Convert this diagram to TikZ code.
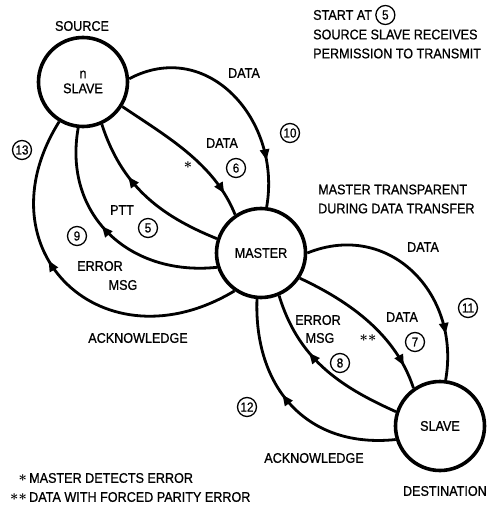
\documentclass[tikz,border=0pt]{standalone}
\usepackage{amsmath}
\usepackage{fontspec}
\setmainfont{Liberation Sans}[FakeStretch=0.9,FakeBold=0.8]
\usetikzlibrary{arrows.meta,decorations.markings,positioning}

\begin{document}
\begin{tikzpicture}[x=1pt,y=-1pt]
  \tikzset{station/.style = {circle,draw,line width=3.6pt,minimum size=89pt,inner sep=0pt,align=center,font=\fontsize{14}{15}\selectfont}}
  \tikzset{lbl/.style = {inner sep=0pt,align=center,font=\fontsize{14}{19}\selectfont}}
  \tikzset{num/.style = {circle,draw,line width=1.3pt,minimum size=19pt,inner sep=1pt,font=\fontsize{13}{13}\selectfont}}
  \tikzset{flow/.style = {line width=2.8pt}}
  \tikzset{tipat/.style = {postaction={decorate},decoration={markings,mark=at position #1 with {\arrow{Triangle[length=11pt,width=9pt]}}}}}

\useasboundingbox (0,0) rectangle (488,508);

\node[station] (src)  at (83,82)   {n\\SLAVE};
\node[station] (mst)  at (261,253) {MASTER};
\node[station] (dst)  at (440,426) {SLAVE};

\node[lbl] (srcname) at (82,26) {SOURCE};
\node[lbl,anchor=east] (dstname) at (487,491) {DESTINATION};

% notes
\node[lbl,anchor=west] (start) at (313,15) {START AT};
\node[num,right=3pt of start] (startnum) {5};
\node[lbl,anchor=west,align=left] (permit) at (313,44) {SOURCE SLAVE RECEIVES\\PERMISSION TO TRANSMIT};
\node[lbl,anchor=west,align=left] (transp) at (318,199) {MASTER TRANSPARENT\\DURING DATA TRANSFER};
\node[lbl,anchor=west] (fnone) at (29,478) {MASTER DETECTS ERROR};
\node[lbl,left=2pt of fnone] (fnonemark) {$\boldsymbol{\ast}$};
\node[lbl,anchor=west] (fntwo) at (29,497) {DATA WITH FORCED PARITY ERROR};
\node[lbl,left=2pt of fntwo] (fntwomark) {$\boldsymbol{\ast\ast}$};

% source <-> master
  \path (src.4) edge[flow, tipat=0.8, out=28, in=80, looseness=1.2] (mst.83);
  \path (src.-32) edge[flow, tipat=0.85, out=-34, in=112, looseness=0.9] (mst.124);
  \path (mst.162) edge[flow, tipat=0.65, out=158, in=-72] (src.-66);
  \path (mst.198) edge[flow, tipat=0.55, out=186, in=-100, looseness=1.15] (src.264);
  \path (mst.235) edge[flow, tipat=0.59, out=211, in=238, looseness=1.6] (src.239);

\node[lbl] (dataten) at (244,73) {DATA};
\node[num] (nten) at (290,133) {10};
\node[lbl] (datasix) at (222,143) {DATA};
\node[num] (nsix) at (236,168) {6};
\node[lbl] (starsix) at (188,165) {$\boldsymbol{\ast}$};
\node[lbl] (ptt) at (122,210) {PTT};
\node[num] (nfive) at (148,228) {5};
\node[num] (nnine) at (77,236) {9};
\node[lbl] (errnine) at (100,266) {ERROR};
\node[lbl] (msgnine) at (123,285) {MSG};
\node[lbl] (ackup) at (138,338) {ACKNOWLEDGE};
\node[num] (nthirteen) at (22,150) {13};

% master <-> destination
  \path (mst.0) edge[flow, tipat=0.8, out=22, in=80, looseness=1.2] (dst.83);
  \path (mst.-33) edge[flow, tipat=0.85, out=-25, in=108, looseness=0.9] (dst.125);
  \path (dst.162) edge[flow, tipat=0.62, out=156, in=-73] (mst.-67);
  \path (dst.197) edge[flow, tipat=0.56, out=186, in=268, looseness=1.15] (mst.265);

\node[lbl] (dataeleven) at (423,247) {DATA};
\node[num] (neleven) at (468,308) {11};
\node[lbl] (dataseven) at (402,317) {DATA};
\node[num] (nseven) at (415,342) {7};
\node[lbl] (starseven) at (368,338) {$\boldsymbol{\ast\ast}$};
\node[lbl] (erreight) at (318,320) {ERROR};
\node[lbl] (msgeight) at (320,338) {MSG};
\node[num] (neight) at (340,363) {8};
\node[num] (ntwelve) at (247,407) {12};
\node[lbl] (ackdown) at (314,458) {ACKNOWLEDGE};

\end{tikzpicture}
\end{document}
